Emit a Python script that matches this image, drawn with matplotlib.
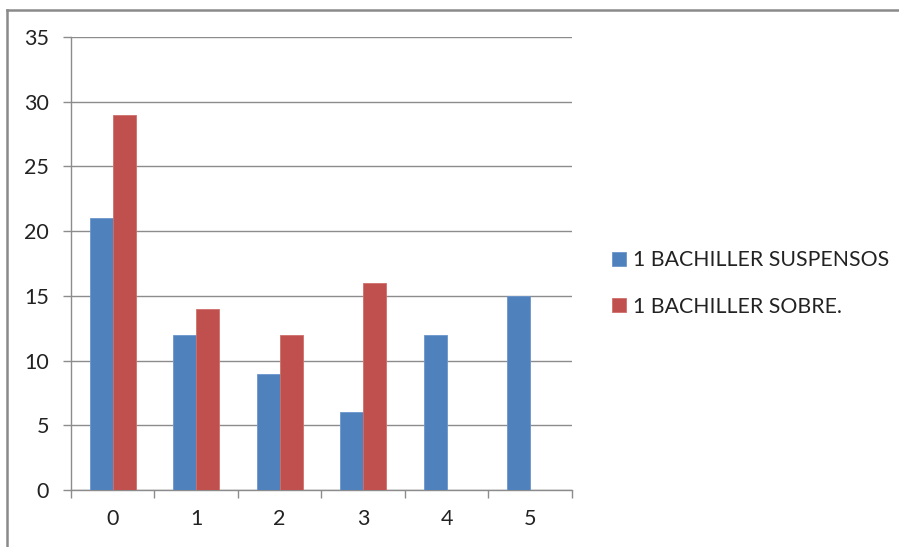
import numpy as np
import matplotlib
matplotlib.use("Agg")
import matplotlib.pyplot as plt
from matplotlib.lines import Line2D

categories = ["0", "1", "2", "3", "4", "5"]
suspensos = [21, 12, 9, 6, 12, 15]
sobresalientes = [29, 14, 12, 16, 0, 0]
series_names = ["1 BACHILLER SUSPENSOS", "1 BACHILLER SOBRE."]
y_ticks = [0, 5, 10, 15, 20, 25, 30, 35]

plt.rcParams["font.family"] = ["Lato", "DejaVu Sans"]

fig = plt.figure(figsize=(8.99, 5.47), dpi=100)
ax = fig.add_axes([0.079, 0.1042, 0.557, 0.8282])

x = np.arange(len(categories))
w = 0.275
grid_c = "#8c8c8c"
ax.bar(x - w / 2, suspensos, width=w, color="#4F81BD", edgecolor="#6b96cc",
       linewidth=0.6, label=series_names[0], zorder=3)
ax.bar(x + w / 2, sobresalientes, width=w, color="#C0504D", edgecolor="#cf6f6c",
       linewidth=0.6, label=series_names[1], zorder=3)

ax.set_xlim(-0.5, len(categories) - 0.5)
ax.set_ylim(0, 35)
ax.set_yticks(y_ticks)
ax.set_yticklabels([str(v) for v in y_ticks])
ax.yaxis.grid(True, color=grid_c, linewidth=1.0, zorder=0)
ax.set_axisbelow(True)

ax.set_xticks(x)
ax.set_xticklabels(categories)
ax.set_xticks(np.arange(-0.5, len(categories)), minor=True)
ax.tick_params(axis="x", which="major", length=0, pad=14, labelsize=15.5, colors="#222222")
ax.tick_params(axis="x", which="minor", length=6, width=1.0, color=grid_c, direction="out")
ax.tick_params(axis="y", length=6, width=1.0, color=grid_c, pad=10, labelsize=15.5,
               labelcolor="#222222")

for s in ["top", "right"]:
    ax.spines[s].set_visible(False)
for s in ["left", "bottom"]:
    ax.spines[s].set_color(grid_c)
    ax.spines[s].set_linewidth(1.0)

handles, labels = ax.get_legend_handles_labels()
fig.legend(handles, labels, loc="center left", bbox_to_anchor=(0.66, 0.482),
           frameon=False, fontsize=15.3, handlelength=0.65, handleheight=0.65,
           handletextpad=0.3, labelspacing=1.25, labelcolor="#222222")

# outer frame
frame_c = "#8a8a8a"
fig.add_artist(Line2D([6.5 / 899, 1.0], [1 - 9.5 / 547, 1 - 9.5 / 547],
                      transform=fig.transFigure, color=frame_c, linewidth=1.8))
fig.add_artist(Line2D([6.5 / 899, 6.5 / 899], [0.0, 1 - 9.5 / 547],
                      transform=fig.transFigure, color=frame_c, linewidth=1.8))

fig.savefig("out.png", dpi=100, facecolor="white")
